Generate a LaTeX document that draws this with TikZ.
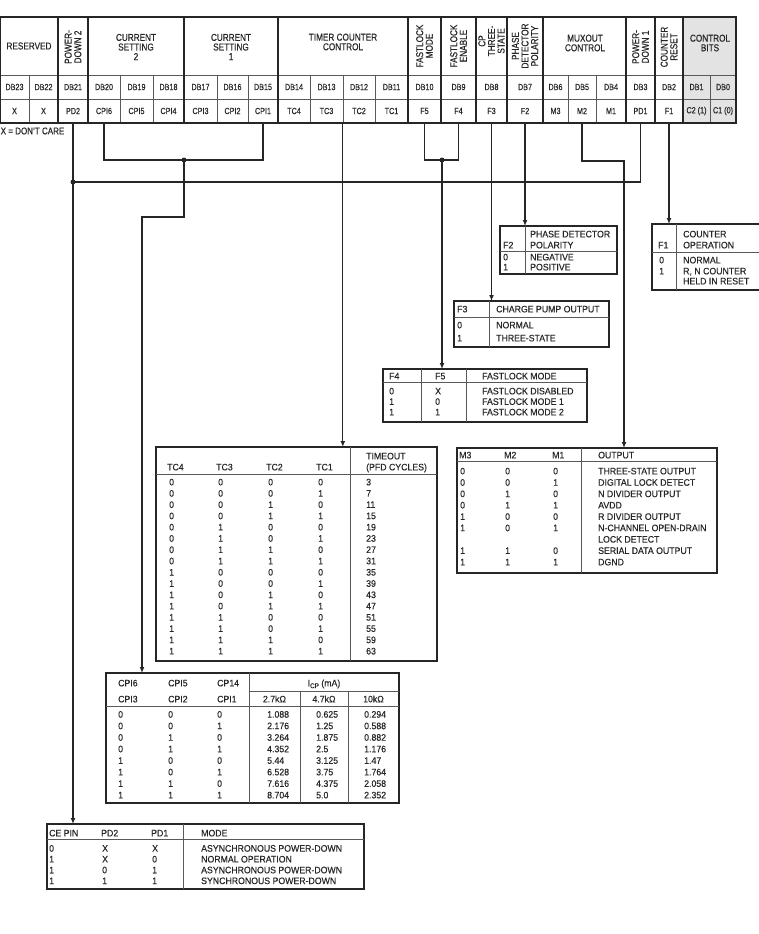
\documentclass[tikz,border=0pt]{standalone}
\usepackage{fontspec}
\setmainfont{Liberation Sans}[FakeStretch=0.93,FakeBold=0.35]
\newfontfamily\hdrfont{Liberation Sans}[FakeStretch=0.82,FakeBold=0.4]
\usetikzlibrary{arrows.meta}

\begin{document}
\begin{tikzpicture}[x=1pt,y=-1pt,
  frame/.style={draw=black!85, line width=1.7pt},
  rule/.style={draw=black!65, line width=0.7pt},
  grp/.style={draw=black!85, line width=1.7pt},
  wire/.style={draw=black!85, line width=1.3pt},
  feed/.style={wire, -{Latex[length=6pt,width=5pt]}},
  junction/.style={circle, fill=black!85, inner sep=0pt, minimum size=5pt},
  tabbox/.style={frame, anchor=north west, inner sep=0pt, outer sep=0pt},
  lbl/.style={anchor=west, inner sep=0pt, text height=6.7pt, text depth=0pt,
    text=black!85, font=\fontsize{9.4}{11}\selectfont},
  cell/.style={inner sep=0pt, minimum height=24pt, text=black!85,
    font=\hdrfont\fontsize{8.8}{10}\selectfont},
  hdr/.style={inner sep=0pt, align=center, text=black!85,
    font=\hdrfont\fontsize{10}{9.6}\selectfont},
]
\useasboundingbox (0,0) rectangle (759,934);
\clip (0,0) rectangle (759,934);

% ---------------- register map ----------------
\fill[black!11] (683,17) rectangle (736,123);
\draw[rule] (0,75) -- (736,75) (0,99) -- (736,99);
\foreach \x in {29,120,153,217,248,310,343,375,568,596,710}
  \draw[rule] (\x,75) -- (\x,123);
\foreach \x in {58,88,184,278,408,441,476,507,543,626,655,683}
  \draw[grp] (\x,17) -- (\x,123);
\draw[frame] (0,17) rectangle (736,123);

\foreach \l/\r/\n/\db/\v in {
  0/29/23/DB23/X, 29/58/22/DB22/X, 58/88/21/DB21/PD2,
  88/120/20/DB20/CPI6, 120/153/19/DB19/CPI5, 153/184/18/DB18/CPI4,
  184/217/17/DB17/CPI3, 217/248/16/DB16/CPI2, 248/278/15/DB15/CPI1,
  278/310/14/DB14/TC4, 310/343/13/DB13/TC3, 343/375/12/DB12/TC2,
  375/408/11/DB11/TC1, 408/441/10/DB10/F5, 441/476/9/DB9/F4,
  476/507/8/DB8/F3, 507/543/7/DB7/F2, 543/568/6/DB6/M3,
  568/596/5/DB5/M2, 596/626/4/DB4/M1, 626/655/3/DB3/PD1,
  655/683/2/DB2/F1, 683/710/1/DB1/{C2 (1)}, 710/736/0/DB0/{C1 (0)}} {
  \node[cell, minimum width={(\r-\l)*1pt}] (b\n) at ({(\l+\r)/2},87) {\db};
  \node[cell, minimum width={(\r-\l)*1pt}] (v\n) at ({(\l+\r)/2},111) {\v};
}

\node[hdr] (gres) at (29,46) {RESERVED};
\node[hdr, rotate=90] (gpdb) at (73,47) {POWER-\\DOWN 2};
\node[hdr] (gcsb) at (136,47) {CURRENT\\SETTING\\2};
\node[hdr] (gcsa) at (231,47) {CURRENT\\SETTING\\1};
\node[hdr] (gtc) at (343,42) {TIMER COUNTER\\CONTROL};
\node[hdr, rotate=90] (gflm) at (424.5,46) {FASTLOCK\\MODE};
\node[hdr, rotate=90] (gfle) at (458.5,46) {FASTLOCK\\ENABLE};
\node[hdr, rotate=90] (gcp) at (491.5,41) {CP\\THREE-\\STATE};
\node[hdr, rotate=90] (gpd) at (525,46) {PHASE\\DETECTOR\\POLARITY};
\node[hdr] (gmx) at (585,43) {MUXOUT\\CONTROL};
\node[hdr, rotate=90] (gpda) at (640.5,47) {POWER-\\DOWN 1};
\node[hdr, rotate=90] (gcr) at (669,47) {COUNTER\\RESET};
\node[hdr] (gcb) at (710,43) {CONTROL\\BITS};

\node[lbl, font=\hdrfont\fontsize{9.8}{10}\selectfont] (dc) at (0.5,131) {X = DON’T CARE};

% ---------------- table frames ----------------
\node[tabbox, minimum width=117pt, minimum height=48pt] (pdtab) at (500,226) {};
\node[tabbox, minimum width=110pt, minimum height=66pt] (cotab) at (652,224) {};
\node[tabbox, minimum width=155pt, minimum height=46pt] (cptab) at (454,301) {};
\node[tabbox, minimum width=204pt, minimum height=53pt] (fltab) at (383,369) {};
\node[tabbox, minimum width=281pt, minimum height=214pt] (tctab) at (156,447) {};
\node[tabbox, minimum width=260pt, minimum height=125pt] (mxtab) at (457,448) {};
\node[tabbox, minimum width=293pt, minimum height=130pt] (ictab) at (106,673) {};
\node[tabbox, minimum width=317pt, minimum height=65pt] (cetab) at (47,824) {};

% ---------------- connectors ----------------
\coordinate (pdbus) at (73,182);
\coordinate (csjoin) at (184,160);
\coordinate (csbend) at (142,217);
\coordinate (fljoin) at (442,160);
\coordinate (mxbend) at (624,161);

\draw[feed] (v21.south) -- (v21.south |- cetab.north);
\draw[wire] (v3.south) |- (pdbus);
\node[junction] (pdjn) at (pdbus) {};

\draw[wire] (v20.south) |- (csjoin) -| (v15.south);
\draw[feed] (csjoin) |- (csbend) -- (csbend |- ictab.north);
\node[junction] (csjn) at (csjoin) {};

\draw[feed] (v12.south west) -- (v12.south west |- tctab.north);

\draw[wire] (v10.south) |- (fljoin) -| (v9.south);
\draw[feed] (fljoin) -- (fljoin |- fltab.north);
\node[junction] (fljn) at (fljoin) {};

\draw[feed] (v8.south) -- (v8.south |- cptab.north);
\draw[feed] (v7.south) -- (v7.south |- pdtab.north);
\draw[feed] (v5.south) |- (mxbend) -- (mxbend |- mxtab.north);
\draw[feed] (v2.south) -- (v2.south |- cotab.north);

% ---------------- phase detector polarity ----------------
\draw[rule] (525,226) -- (525,274) (500,251) -- (617,251);
\node[lbl] (pdh1) at (530,234) {PHASE DETECTOR};
\node[lbl] (pdh2) at (530,245) {POLARITY};
\node[lbl] (pdh0) at (503,245) {F2};
\node[lbl] (pda0) at (503,257) {0};
\node[lbl] (pdb0) at (530,257) {NEGATIVE};
\node[lbl] (pda1) at (503,267) {1};
\node[lbl] (pdb1) at (530,267) {POSITIVE};

% ---------------- counter operation ----------------
\draw[rule] (676,224) -- (676,290) (652,252) -- (762,252);
\node[lbl] (coh1) at (683,234) {COUNTER};
\node[lbl] (coh2) at (683,245) {OPERATION};
\node[lbl] (coh0) at (658,245) {F1};
\node[lbl] (coa0) at (659,260) {0};
\node[lbl] (cob0) at (683,260) {NORMAL};
\node[lbl] (coa1) at (659,271) {1};
\node[lbl] (cob1) at (683,271) {R, N COUNTER};
\node[lbl] (cob2) at (683,281) {HELD IN RESET};

% ---------------- charge pump output ----------------
\draw[rule] (489,301) -- (489,347) (454,317) -- (609,317);
\node[lbl] (cph0) at (457,309) {F3};
\node[lbl] (cph1) at (496,309) {CHARGE PUMP OUTPUT};
\node[lbl] (cpa0) at (457,325) {0};
\node[lbl] (cpb0) at (496,325) {NORMAL};
\node[lbl] (cpa1) at (457,338) {1};
\node[lbl] (cpb1) at (496,338) {THREE-STATE};

% ---------------- fastlock mode ----------------
\draw[rule] (421,369) -- (421,422) (466,369) -- (466,422) (383,382) -- (587,382);
\node[lbl] (flh0) at (389,376) {F4};
\node[lbl] (flh1) at (435,376) {F5};
\node[lbl] (flh2) at (482,376) {FASTLOCK MODE};
\foreach \a/\b/\t [count=\i] in {0/X/FASTLOCK DISABLED, 1/0/FASTLOCK MODE 1, 1/1/FASTLOCK MODE 2} {
  \pgfmathsetmacro\yy{380.5+10.5*\i}
  \node[lbl] (fla\i) at (389,\yy) {\a};
  \node[lbl] (flb\i) at (435,\yy) {\b};
  \node[lbl] (flc\i) at (482,\yy) {\t};
}

% ---------------- timer counter ----------------
\draw[rule] (350,447) -- (350,661) (156,474) -- (437,474);
\node[lbl] (tch4) at (167,467) {TC4};
\node[lbl] (tch3) at (216,467) {TC3};
\node[lbl] (tch2) at (266,467) {TC2};
\node[lbl] (tch1) at (316,467) {TC1};
\node[lbl] (tcht) at (366,456) {TIMEOUT};
\node[lbl] (tchp) at (366,467) {(PFD CYCLES)};
\foreach \a/\b/\c/\d/\t [count=\i from 0] in {
  0/0/0/0/3, 0/0/0/1/7, 0/0/1/0/11, 0/0/1/1/15,
  0/1/0/0/19, 0/1/0/1/23, 0/1/1/0/27, 0/1/1/1/31,
  1/0/0/0/35, 1/0/0/1/39, 1/0/1/0/43, 1/0/1/1/47,
  1/1/0/0/51, 1/1/0/1/55, 1/1/1/0/59, 1/1/1/1/63} {
  \pgfmathsetmacro\yy{482+11.27*\i}
  \node[lbl] (tca\i) at (169,\yy) {\a};
  \node[lbl] (tcb\i) at (218,\yy) {\b};
  \node[lbl] (tcc\i) at (268,\yy) {\c};
  \node[lbl] (tcd\i) at (318,\yy) {\d};
  \node[lbl] (tct\i) at (366,\yy) {\t};
}

% ---------------- muxout ----------------
\draw[rule] (581,448) -- (581,573) (457,461) -- (717,461);
\node[lbl] (mxh3) at (459,455) {M3};
\node[lbl] (mxh2) at (504,455) {M2};
\node[lbl] (mxh1) at (552,455) {M1};
\node[lbl] (mxho) at (598,455) {OUTPUT};
\foreach \a/\b/\c/\t [count=\i from 0] in {
  0/0/0/THREE-STATE OUTPUT, 0/0/1/DIGITAL LOCK DETECT,
  0/1/0/N DIVIDER OUTPUT, 0/1/1/AVDD, 1/0/0/R DIVIDER OUTPUT,
  1/0/1/N-CHANNEL OPEN-DRAIN, {}/{}/{}/LOCK DETECT,
  1/1/0/SERIAL DATA OUTPUT, 1/1/1/DGND} {
  \pgfmathsetmacro\yy{471+11.37*\i}
  \node[lbl] (mxa\i) at (460,\yy) {\a};
  \node[lbl] (mxb\i) at (505,\yy) {\b};
  \node[lbl] (mxc\i) at (553,\yy) {\c};
  \node[lbl] (mxt\i) at (598,\yy) {\t};
}

% ---------------- charge pump current ----------------
\draw[rule] (249,673) -- (249,803) (249,691) -- (399,691)
  (300,691) -- (300,803) (348,691) -- (348,803) (106,706) -- (399,706);
\node[lbl] (ich6) at (118,683) {CPI6};
\node[lbl] (ich5) at (168,683) {CPI5};
\node[lbl] (ich4) at (217,683) {CP14};
\node[lbl] (ich3) at (118,699) {CPI3};
\node[lbl] (ich2) at (168,699) {CPI2};
\node[lbl] (ich1) at (217,699) {CPI1};
\node[lbl, anchor=center] (icht) at (324,683) {I\raisebox{-1.8pt}{\fontsize{6.8}{7}\selectfont CP} (mA)};
\node[lbl, anchor=center] (icra) at (274.5,699) {2.7kΩ};
\node[lbl, anchor=center] (icrb) at (324,699) {4.7kΩ};
\node[lbl, anchor=center] (icrc) at (373.5,699) {10kΩ};
\foreach \a/\b/\c/\p/\q/\r [count=\i from 0] in {
  0/0/0/1.088/0.625/0.294, 0/0/1/2.176/1.25/0.588,
  0/1/0/3.264/1.875/0.882, 0/1/1/4.352/2.5/1.176,
  1/0/0/5.44/3.125/1.47, 1/0/1/6.528/3.75/1.764,
  1/1/0/7.616/4.375/2.058, 1/1/1/8.704/5.0/2.352} {
  \pgfmathsetmacro\yy{714.3+11.53*\i}
  \node[lbl] (ica\i) at (118,\yy) {\a};
  \node[lbl] (icb\i) at (168,\yy) {\b};
  \node[lbl] (icc\i) at (217,\yy) {\c};
  \node[lbl] (icp\i) at (267,\yy) {\p};
  \node[lbl] (icq\i) at (316,\yy) {\q};
  \node[lbl] (icr\i) at (364,\yy) {\r};
}

% ---------------- power-down modes ----------------
\draw[rule] (183,824) -- (183,889) (47,839) -- (364,839);
\node[lbl] (ceh0) at (49,833) {CE PIN};
\node[lbl] (ceh1) at (101,833) {PD2};
\node[lbl] (ceh2) at (151,833) {PD1};
\node[lbl] (ceh3) at (201,833) {MODE};
\foreach \a/\b/\c/\t [count=\i from 0] in {
  0/X/X/ASYNCHRONOUS POWER-DOWN, 1/X/0/NORMAL OPERATION,
  1/0/1/ASYNCHRONOUS POWER-DOWN, 1/1/1/SYNCHRONOUS POWER-DOWN} {
  \pgfmathsetmacro\yy{848.3+10.8*\i}
  \node[lbl] (cea\i) at (49,\yy) {\a};
  \node[lbl] (ceb\i) at (102,\yy) {\b};
  \node[lbl] (cec\i) at (152,\yy) {\c};
  \node[lbl] (cet\i) at (201,\yy) {\t};
}
\end{tikzpicture}
\end{document}
